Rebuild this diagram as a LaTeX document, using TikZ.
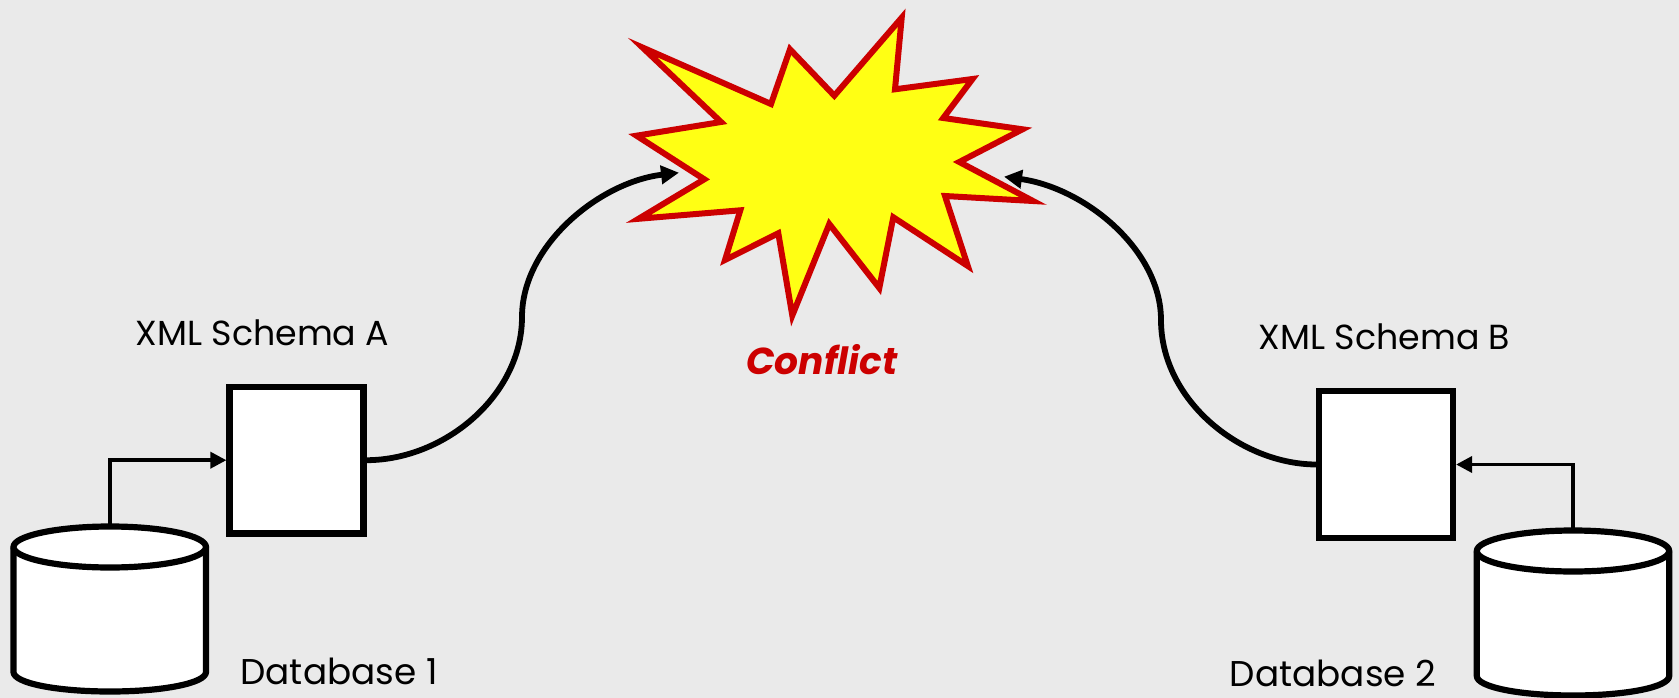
\documentclass[tikz,border=0pt]{standalone}
\usepackage{fontspec}
\setmainfont{Poppins}
\usetikzlibrary{arrows.meta}
\definecolor{bg}{HTML}{EAEAEA}
\definecolor{starred}{HTML}{CC0000}
\definecolor{staryellow}{HTML}{FFFF14}
\tikzset{
  boxnode/.style={draw=black,fill=white,line width=6.2pt,minimum width=134pt,minimum height=146.5pt,inner sep=0pt,outer sep=3.1pt},
  cylline/.style={draw=black,fill=white,line width=6.2pt,line join=round},
  thinarrow/.style={draw=black,line width=3.6pt,-{Triangle[length=16pt,width=16pt]}},
  thickarrow/.style={draw=black,line width=5.8pt,-{Triangle[length=18pt,width=18pt]}},
  thickline/.style={draw=black,line width=5.8pt},
  lbl/.style={anchor=base,inner sep=0pt,font=\fontsize{34.8}{40}\selectfont},
  dblbl/.style={lbl,font=\fontsize{35.8}{40}\selectfont},
  stardraw/.style={draw=starred,fill=staryellow,line width=6pt,miter limit=20,line join=miter}
}
\begin{document}
\begin{tikzpicture}[x=1pt,y=-1pt]
\useasboundingbox (0,0) rectangle (1679,698);
\fill[bg] (0,0) rectangle (1679,698);
% star
\draw[stardraw] (642.5,47.5)--(771,104)--(790,49.3)--(834.3,95.7)--(901.7,17.7)--(895,89.3)--(972.5,79)--(943.3,118)--(1022.5,129.3)--(959.3,162)--(1033,201)--(945,196)--(967.8,266)--(893.3,217.3)--(879.3,288)--(829.3,224)--(792.3,315.5)--(778.3,233.3)--(725,260)--(740.3,210.3)--(638.5,218.8)--(704.3,179.3)--(636.5,135.7)--(721,122)--cycle;
\coordinate (hitL) at (679,172.7);
\coordinate (hitR) at (1004,176.7);
\coordinate (midL) at (522,317);
\coordinate (midR) at (1161,320);
% left
\node[boxnode] (boxA) at (296.5,460.2) {};
\draw[cylline] (13.5,547) -- (13.5,672) .. controls (13.5,683) and (56,691.5) .. (110,691.5) .. controls (164,691.5) and (206,683) .. (206,672) -- (206,547) .. controls (206,536) and (164,526.5) .. (110,526.5) .. controls (56,526.5) and (13.5,536) .. (13.5,547) -- cycle;
\draw[cylline] (13.5,547) .. controls (13.5,558) and (56,567.5) .. (110,567.5) .. controls (164,567.5) and (206,558) .. (206,547);
\coordinate (dbA) at (110,524);
\draw[thinarrow] (dbA) |- (boxA.west);
\draw[thickline] (boxA.east) .. controls (445,460) and (522,395) .. (midL);
\draw[thickarrow] (midL) .. controls (522,245) and (600,182) .. (hitL);
% right
\node[boxnode] (boxB) at (1386,464.5) {};
\draw[cylline] (1476.8,551) -- (1476.8,676) .. controls (1476.8,687) and (1519,695.5) .. (1573,695.5) .. controls (1627,695.5) and (1669.2,687) .. (1669.2,676) -- (1669.2,551) .. controls (1669.2,540) and (1627,530.5) .. (1573,530.5) .. controls (1519,530.5) and (1476.8,540) .. (1476.8,551) -- cycle;
\draw[cylline] (1476.8,551) .. controls (1476.8,562) and (1519,571.5) .. (1573,571.5) .. controls (1627,571.5) and (1669.2,562) .. (1669.2,551);
\coordinate (dbB) at (1573,528);
\draw[thinarrow] (dbB) |- (boxB.east);
\draw[thickline] (boxB.west) .. controls (1240,464) and (1161,400) .. (midR);
\draw[thickarrow] (midR) .. controls (1161,250) and (1085,188) .. (hitR);
% text
\node[lbl] (tA) at (262.5,345) {XML Schema A};
\node[lbl] (tB) at (1384.5,349) {XML Schema B};
\node[dblbl] (d1) at (339,684) {Database 1};
\node[dblbl] (d2) at (1333,686) {Database 2};
\node[lbl,text=starred,font=\fontsize{37.5}{42}\selectfont\bfseries\itshape] (cf) at (822,374) {Conflict};
\end{tikzpicture}
\end{document}
